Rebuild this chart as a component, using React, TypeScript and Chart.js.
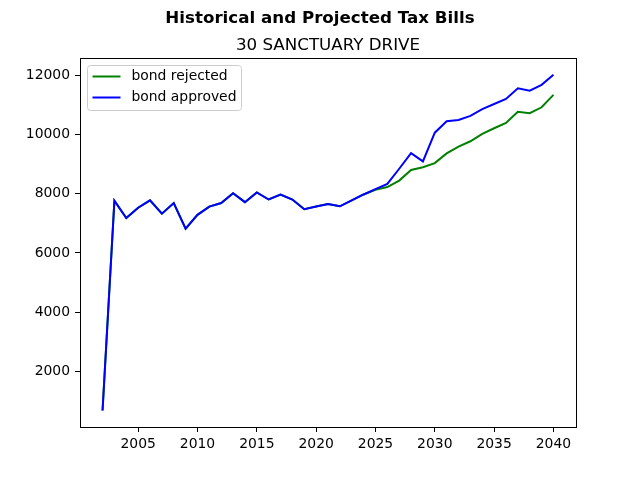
import React, { useEffect, useRef } from "react";
import { Chart, registerables } from "chart.js";

Chart.register(...registerables);

const years = [
  2002, 2003, 2004, 2005, 2006, 2007, 2008, 2009, 2010, 2011, 2012, 2013, 2014,
  2015, 2016, 2017, 2018, 2019, 2020, 2021, 2022, 2023, 2024, 2025, 2026, 2027,
  2028, 2029, 2030, 2031, 2032, 2033, 2034, 2035, 2036, 2037, 2038, 2039, 2040,
];

const bondApproved = [
  670, 7770, 7180, 7530, 7780, 7330, 7690, 6820, 7290, 7570, 7690, 8020, 7720,
  8050, 7810, 7980, 7810, 7480, 7570, 7660, 7580, 7780, 7980, 8160, 8340, 8850,
  9380, 9100, 10070, 10460, 10500, 10640, 10870, 11040, 11210, 11570, 11490,
  11690, 12030,
];

const bondRejected = [
  670, 7770, 7180, 7530, 7780, 7330, 7690, 6820, 7290, 7570, 7690, 8020, 7720,
  8050, 7810, 7980, 7810, 7480, 7570, 7660, 7580, 7780, 7980, 8140, 8230, 8450,
  8810, 8900, 9040, 9370, 9600, 9780, 10030, 10220, 10400, 10780, 10730, 10930,
  11350,
];

const xTicks = [2005, 2010, 2015, 2020, 2025, 2030, 2035, 2040];
const yTicks = [2000, 4000, 6000, 8000, 10000, 12000];

const seriesLabels = ["bond rejected", "bond approved"];
const seriesColors = ["#008000", "#0000ff"];

const mainTitle = "Historical and Projected Tax Bills";
const subTitle = "30 SANCTUARY DRIVE";

const FONT = "'DejaVu Sans', sans-serif";

export default function App() {
  const ref = useRef<HTMLCanvasElement | null>(null);

  useEffect(() => {
    if (!ref.current) return;

    const framePlugin = {
      id: "frameAndText",
      afterDraw(chart: any) {
        const { ctx, chartArea } = chart;
        ctx.save();
        // frame
        ctx.strokeStyle = "#000";
        ctx.lineWidth = 1;
        ctx.strokeRect(
          Math.round(chartArea.left) + 0.5,
          Math.round(chartArea.top) + 0.5,
          Math.round(chartArea.right - chartArea.left),
          Math.round(chartArea.bottom - chartArea.top)
        );
        // titles
        ctx.fillStyle = "#000";
        ctx.textAlign = "center";
        ctx.textBaseline = "alphabetic";
        ctx.font = `bold 16.7px ${FONT}`;
        ctx.fillText(mainTitle, chart.width / 2, 23);
        ctx.font = `16.7px ${FONT}`;
        ctx.fillText(subTitle, (chartArea.left + chartArea.right) / 2, 49.5);

        // legend
        const lx = chartArea.left + 7.5;
        const ly = chartArea.top + 7.5;
        const lw = 154;
        const lh = 45;
        const r = 3;
        ctx.beginPath();
        ctx.moveTo(lx + r, ly);
        ctx.lineTo(lx + lw - r, ly);
        ctx.quadraticCurveTo(lx + lw, ly, lx + lw, ly + r);
        ctx.lineTo(lx + lw, ly + lh - r);
        ctx.quadraticCurveTo(lx + lw, ly + lh, lx + lw - r, ly + lh);
        ctx.lineTo(lx + r, ly + lh);
        ctx.quadraticCurveTo(lx, ly + lh, lx, ly + lh - r);
        ctx.lineTo(lx, ly + r);
        ctx.quadraticCurveTo(lx, ly, lx + r, ly);
        ctx.closePath();
        ctx.fillStyle = "rgba(255,255,255,0.8)";
        ctx.fill();
        ctx.strokeStyle = "#cccccc";
        ctx.lineWidth = 1;
        ctx.stroke();

        ctx.font = `13.9px ${FONT}`;
        ctx.textAlign = "left";
        ctx.textBaseline = "middle";
        seriesLabels.forEach((label, i) => {
          const cy = ly + 11 + i * 21;
          ctx.strokeStyle = seriesColors[i];
          ctx.lineWidth = 2;
          ctx.beginPath();
          ctx.moveTo(lx + 5, cy);
          ctx.lineTo(lx + 33, cy);
          ctx.stroke();
          ctx.fillStyle = "#000";
          ctx.fillText(label, lx + 44, cy);
        });
        ctx.restore();
      },
    };

    const chart = new Chart(ref.current, {
      type: "line",
      data: {
        datasets: [
          {
            label: seriesLabels[0],
            data: years.map((y, i) => ({ x: y, y: bondRejected[i] })),
            borderColor: seriesColors[0],
            backgroundColor: seriesColors[0],
            borderWidth: 2,
            pointRadius: 0,
            tension: 0,
            order: 1,
          },
          {
            label: seriesLabels[1],
            data: years.map((y, i) => ({ x: y, y: bondApproved[i] })),
            borderColor: seriesColors[1],
            backgroundColor: seriesColors[1],
            borderWidth: 2,
            pointRadius: 0,
            tension: 0,
            order: 0,
          },
        ],
      },
      options: {
        responsive: false,
        animation: false,
        devicePixelRatio: 1,
        layout: { padding: { top: 58, right: 64, left: 0, bottom: 0 } },
        plugins: {
          legend: { display: false },
          title: { display: false },
          tooltip: { enabled: false },
        },
        scales: {
          x: {
            type: "linear",
            min: 2000.1,
            max: 2041.9,
            afterBuildTicks: (scale: any) => {
              scale.ticks = xTicks.map((v) => ({ value: v }));
            },
            afterFit: (scale: any) => {
              scale.height = 53;
            },
            grid: {
              display: true,
              drawOnChartArea: false,
              drawTicks: true,
              tickLength: 5,
              color: "#000",
            },
            border: { display: true, color: "#000", width: 1 },
            ticks: {
              autoSkip: false,
              maxRotation: 0,
              padding: 4,
              color: "#000",
              font: { family: FONT, size: 13.9 },
              callback: (v: any) => String(v),
            },
          },
          y: {
            type: "linear",
            min: 113,
            max: 12597,
            afterBuildTicks: (scale: any) => {
              scale.ticks = yTicks.map((v) => ({ value: v }));
            },
            afterFit: (scale: any) => {
              scale.width = 80;
            },
            grid: {
              display: true,
              drawOnChartArea: false,
              drawTicks: true,
              tickLength: 5,
              color: "#000",
            },
            border: { display: true, color: "#000", width: 1 },
            ticks: {
              autoSkip: false,
              padding: 5,
              color: "#000",
              font: { family: FONT, size: 13.9 },
              callback: (v: any) => String(v),
            },
          },
        },
      },
      plugins: [framePlugin],
    } as any);

    return () => chart.destroy();
  }, []);

  return (
    <div
      style={{
        position: "fixed",
        left: 0,
        top: 0,
        width: 640,
        height: 480,
        background: "#fff",
      }}
    >
      <canvas ref={ref} width={640} height={480} />
    </div>
  );
}
